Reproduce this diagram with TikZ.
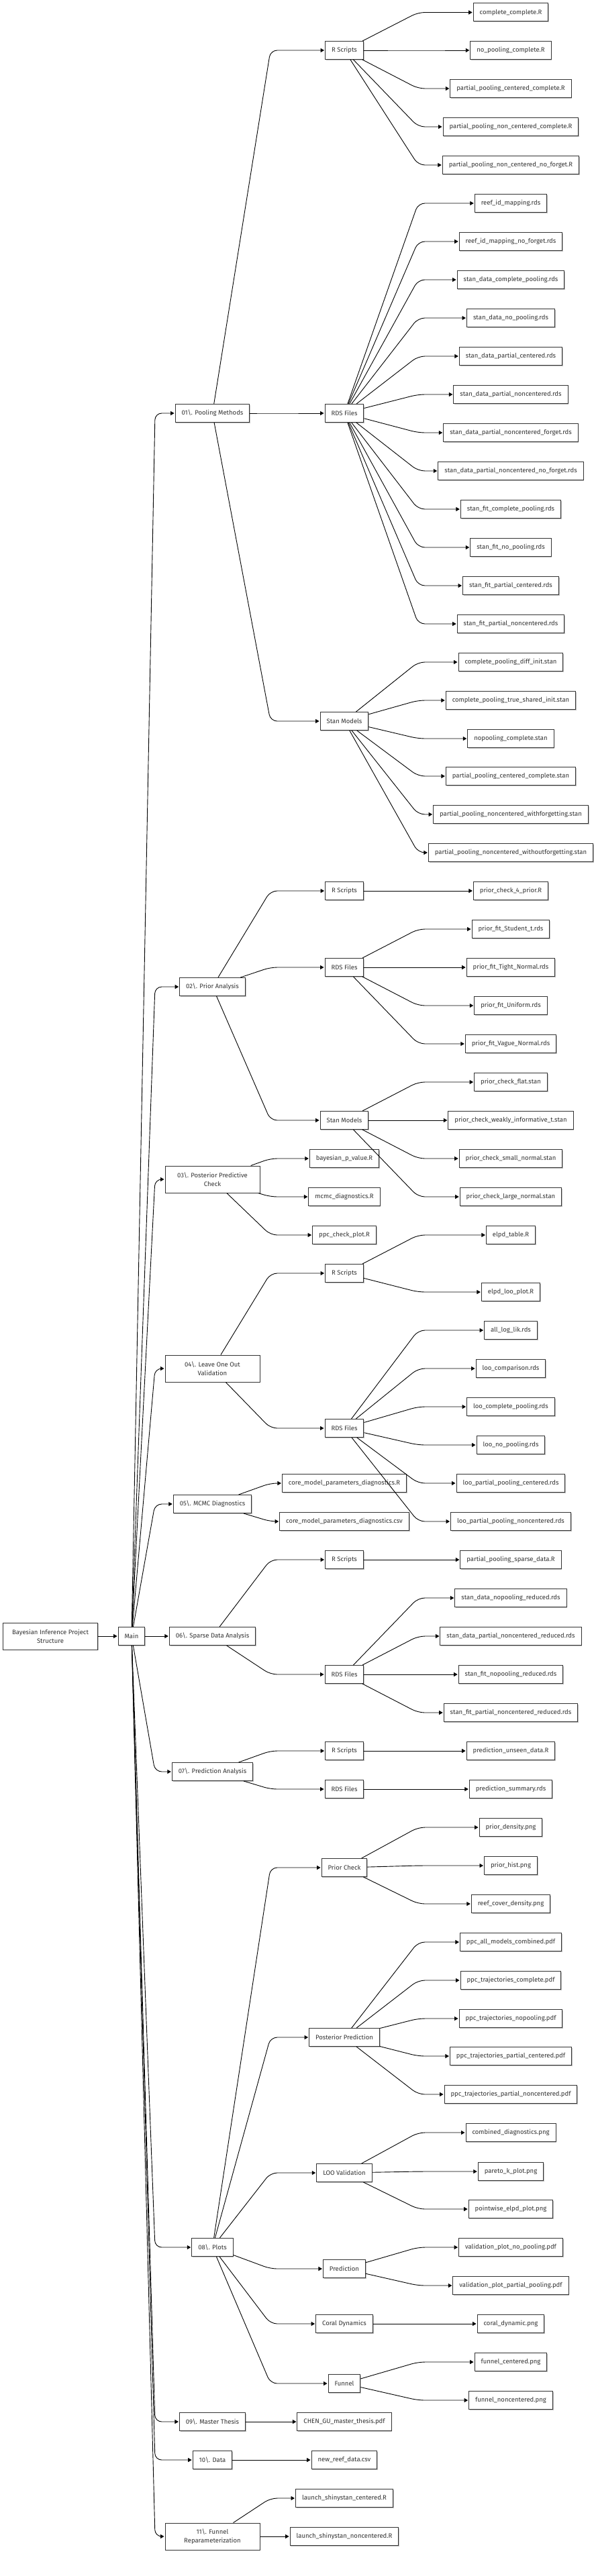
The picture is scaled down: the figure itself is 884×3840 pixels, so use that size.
\documentclass[tikz,border=0pt]{standalone}
\usepackage{fontspec}
\setmainfont{Fira Sans}
\usetikzlibrary{arrows.meta,shadows}
\definecolor{ink}{HTML}{333333}
\tikzset{
  box/.style={draw=ink, fill=white, line width=1pt, text=ink,
    font=\fontsize{9.5}{13}\selectfont, minimum height=27pt,
    inner xsep=9.5pt, inner ysep=3pt,
    drop shadow={shadow xshift=1.2pt, shadow yshift=-1.2pt, opacity=0.25, fill=black}},
  wbox/.style={box, minimum width=141pt, minimum height=40pt, align=center},
  lnk/.style={draw=black, line width=0.9pt, rounded corners=10pt,
    -{Triangle[length=5.5pt,width=6pt]}, shorten >=1pt},
}
\newcommand\lk[3]{\draw[lnk] (#1) -- (#3 |- #2) -- (#2);}
\begin{document}
\begin{tikzpicture}[x=1pt,y=-1pt]
\useasboundingbox (0,0) rectangle (884,3840);
\coordinate (X1) at (231,0);
\coordinate (X2) at (403,0);
\coordinate (X3) at (623,0);
% root and main
\node[wbox] (root) at (75,2439) {Bayesian Inference Project\\Structure};
\node[box] (main) at (196,2439) {Main};
% level 1
\node[box] (p1) at (316.5,616) {01\textbackslash. Pooling Methods};
\node[box] (p2) at (316.5,1471) {02\textbackslash. Prior Analysis};
\node[wbox] (p3) at (316.5,1758) {03\textbackslash. Posterior Predictive\\Check};
\node[wbox] (p4) at (316.5,2040) {04\textbackslash. Leave One Out\\Validation};
\node[box] (p5) at (316.5,2242) {05\textbackslash. MCMC Diagnostics};
\node[box] (p6) at (316.5,2439) {06\textbackslash. Sparse Data Analysis};
\node[box] (p7) at (316.5,2641) {07\textbackslash. Prediction Analysis};
\node[box] (p8) at (316.5,3350) {08\textbackslash. Plots};
\node[box] (p9) at (316.5,3610) {09\textbackslash. Master Thesis};
\node[box] (p10) at (316.5,3667) {10\textbackslash. Data};
\node[wbox] (p11) at (316.5,3781) {11\textbackslash. Funnel\\Reparameterization};
% level 2
\node[box] (a1) at (513,75) {R Scripts};
\node[box] (a2) at (513,616) {RDS Files};
\node[box] (a3) at (513,1075) {Stan Models};
\node[box] (b1) at (513,1328) {R Scripts};
\node[box] (b2) at (513,1442) {RDS Files};
\node[box] (b3) at (513,1670) {Stan Models};
\node[box] (c1) at (513,1727) {bayesian\_p\_value.R};
\node[box] (c2) at (513,1784) {mcmc\_diagnostics.R};
\node[box] (c3) at (513,1841) {ppc\_check\_plot.R};
\node[box] (d1) at (513,1898) {R Scripts};
\node[box] (d2) at (513,2129) {RDS Files};
\node[box] (e1) at (513,2211) {core\_model\_parameters\_diagnostics.R};
\node[box] (e2) at (513,2268) {core\_model\_parameters\_diagnostics.csv};
\node[box] (f1) at (513,2325) {R Scripts};
\node[box] (f2) at (513,2496) {RDS Files};
\node[box] (g1) at (513,2610) {R Scripts};
\node[box] (g2) at (513,2667) {RDS Files};
\node[box] (h1) at (513,2784) {Prior Check};
\node[box] (h2) at (513,3037) {Posterior Prediction};
\node[box] (h3) at (513,3239) {LOO Validation};
\node[box] (h4) at (513,3382) {Prediction};
\node[box] (h5) at (513,3464) {Coral Dynamics};
\node[box] (h6) at (513,3553) {Funnel};
\node[box] (i1) at (513,3610) {CHEN\_GU\_master\_thesis.pdf};
\node[box] (j1) at (513,3667) {new\_reef\_data.csv};
\node[box] (k1) at (513,3724) {launch\_shinystan\_centered.R};
\node[box] (k2) at (513,3781) {launch\_shinystan\_noncentered.R};
% level 3
\node[box] (a1a) at (761,18.5) {complete\_complete.R};
\node[box] (a1b) at (761,75) {no\_pooling\_complete.R};
\node[box] (a1c) at (761,132) {partial\_pooling\_centered\_complete.R};
\node[box] (a1d) at (761,189) {partial\_pooling\_non\_centered\_complete.R};
\node[box] (a1e) at (761,246) {partial\_pooling\_non\_centered\_no\_forget.R};
\node[box] (a2a) at (761,303) {reef\_id\_mapping.rds};
\node[box] (a2b) at (761,360) {reef\_id\_mapping\_no\_forget.rds};
\node[box] (a2c) at (761,417) {stan\_data\_complete\_pooling.rds};
\node[box] (a2d) at (761,474) {stan\_data\_no\_pooling.rds};
\node[box] (a2e) at (761,531) {stan\_data\_partial\_centered.rds};
\node[box] (a2f) at (761,588) {stan\_data\_partial\_noncentered.rds};
\node[box] (a2g) at (761,645) {stan\_data\_partial\_noncentered\_forget.rds};
\node[box] (a2h) at (761,702) {stan\_data\_partial\_noncentered\_no\_forget.rds};
\node[box] (a2i) at (761,759) {stan\_fit\_complete\_pooling.rds};
\node[box] (a2j) at (761,816) {stan\_fit\_no\_pooling.rds};
\node[box] (a2k) at (761,873) {stan\_fit\_partial\_centered.rds};
\node[box] (a2l) at (761,930) {stan\_fit\_partial\_noncentered.rds};
\node[box] (a3a) at (761,987) {complete\_pooling\_diff\_init.stan};
\node[box] (a3b) at (761,1044) {complete\_pooling\_true\_shared\_init.stan};
\node[box] (a3c) at (761,1101) {nopooling\_complete.stan};
\node[box] (a3d) at (761,1157) {partial\_pooling\_centered\_complete.stan};
\node[box] (a3e) at (761,1214) {partial\_pooling\_noncentered\_withforgetting.stan};
\node[box] (a3f) at (761,1271) {partial\_pooling\_noncentered\_withoutforgetting.stan};
\node[box] (b1a) at (761,1328) {prior\_check\_4\_prior.R};
\node[box] (b2a) at (761,1385) {prior\_fit\_Student\_t.rds};
\node[box] (b2b) at (761,1442) {prior\_fit\_Tight\_Normal.rds};
\node[box] (b2c) at (761,1499) {prior\_fit\_Uniform.rds};
\node[box] (b2d) at (761,1556) {prior\_fit\_Vague\_Normal.rds};
\node[box] (b3a) at (761,1613) {prior\_check\_flat.stan};
\node[box] (b3b) at (761,1670) {prior\_check\_weakly\_informative\_t.stan};
\node[box] (b3c) at (761,1727) {prior\_check\_small\_normal.stan};
\node[box] (b3d) at (761,1784) {prior\_check\_large\_normal.stan};
\node[box] (d1a) at (761,1841) {elpd\_table.R};
\node[box] (d1b) at (761,1926) {elpd\_loo\_plot.R};
\node[box] (d2a) at (761,1983) {all\_log\_lik.rds};
\node[box] (d2b) at (761,2040) {loo\_comparison.rds};
\node[box] (d2c) at (761,2097) {loo\_complete\_pooling.rds};
\node[box] (d2d) at (761,2154) {loo\_no\_pooling.rds};
\node[box] (d2e) at (761,2211) {loo\_partial\_pooling\_centered.rds};
\node[box] (d2f) at (761,2268) {loo\_partial\_pooling\_noncentered.rds};
\node[box] (f1a) at (761,2325) {partial\_pooling\_sparse\_data.R};
\node[box] (f2a) at (761,2382) {stan\_data\_nopooling\_reduced.rds};
\node[box] (f2b) at (761,2439) {stan\_data\_partial\_noncentered\_reduced.rds};
\node[box] (f2c) at (761,2496) {stan\_fit\_nopooling\_reduced.rds};
\node[box] (f2d) at (761,2553) {stan\_fit\_partial\_noncentered\_reduced.rds};
\node[box] (g1a) at (761,2610) {prediction\_unseen\_data.R};
\node[box] (g2a) at (761,2667) {prediction\_summary.rds};
\node[box] (h1a) at (761,2724) {prior\_density.png};
\node[box] (h1b) at (761,2781) {prior\_hist.png};
\node[box] (h1c) at (761,2838) {reef\_cover\_density.png};
\node[box] (h2a) at (761,2895) {ppc\_all\_models\_combined.pdf};
\node[box] (h2b) at (761,2952) {ppc\_trajectories\_complete.pdf};
\node[box] (h2c) at (761,3009) {ppc\_trajectories\_nopooling.pdf};
\node[box] (h2d) at (761,3065) {ppc\_trajectories\_partial\_centered.pdf};
\node[box] (h2e) at (761,3122) {ppc\_trajectories\_partial\_noncentered.pdf};
\node[box] (h3a) at (761,3179) {combined\_diagnostics.png};
\node[box] (h3b) at (761,3237) {pareto\_k\_plot.png};
\node[box] (h3c) at (761,3293) {pointwise\_elpd\_plot.png};
\node[box] (h4a) at (761,3350) {validation\_plot\_no\_pooling.pdf};
\node[box] (h4b) at (761,3407) {validation\_plot\_partial\_pooling.pdf};
\node[box] (h5a) at (761,3464) {coral\_dynamic.png};
\node[box] (h6a) at (761,3521) {funnel\_centered.png};
\node[box] (h6b) at (761,3578) {funnel\_noncentered.png};
% edges
\draw[lnk] (root) -- (main);
\foreach \t in {p1,p2,p3,p4,p5,p6,p7,p8,p9,p10,p11} {\lk{main}{\t}{X1}}
\foreach \t in {a1,a2,a3} {\lk{p1}{\t}{X2}}
\foreach \t in {b1,b2,b3} {\lk{p2}{\t}{X2}}
\foreach \t in {c1,c2,c3} {\lk{p3}{\t}{X2}}
\foreach \t in {d1,d2} {\lk{p4}{\t}{X2}}
\foreach \t in {e1,e2} {\lk{p5}{\t}{X2}}
\foreach \t in {f1,f2} {\lk{p6}{\t}{X2}}
\foreach \t in {g1,g2} {\lk{p7}{\t}{X2}}
\foreach \t in {h1,h2,h3,h4,h5,h6} {\lk{p8}{\t}{X2}}
\lk{p9}{i1}{X2}
\lk{p10}{j1}{X2}
\foreach \t in {k1,k2} {\lk{p11}{\t}{X2}}
\foreach \t in {a1a,a1b,a1c,a1d,a1e} {\lk{a1}{\t}{X3}}
\foreach \t in {a2a,a2b,a2c,a2d,a2e,a2f,a2g,a2h,a2i,a2j,a2k,a2l} {\lk{a2}{\t}{X3}}
\foreach \t in {a3a,a3b,a3c,a3d,a3e,a3f} {\lk{a3}{\t}{X3}}
\lk{b1}{b1a}{X3}
\foreach \t in {b2a,b2b,b2c,b2d} {\lk{b2}{\t}{X3}}
\foreach \t in {b3a,b3b,b3c,b3d} {\lk{b3}{\t}{X3}}
\foreach \t in {d1a,d1b} {\lk{d1}{\t}{X3}}
\foreach \t in {d2a,d2b,d2c,d2d,d2e,d2f} {\lk{d2}{\t}{X3}}
\lk{f1}{f1a}{X3}
\foreach \t in {f2a,f2b,f2c,f2d} {\lk{f2}{\t}{X3}}
\lk{g1}{g1a}{X3}
\lk{g2}{g2a}{X3}
\foreach \t in {h1a,h1b,h1c} {\lk{h1}{\t}{X3}}
\foreach \t in {h2a,h2b,h2c,h2d,h2e} {\lk{h2}{\t}{X3}}
\foreach \t in {h3a,h3b,h3c} {\lk{h3}{\t}{X3}}
\foreach \t in {h4a,h4b} {\lk{h4}{\t}{X3}}
\lk{h5}{h5a}{X3}
\foreach \t in {h6a,h6b} {\lk{h6}{\t}{X3}}
\end{tikzpicture}
\end{document}
